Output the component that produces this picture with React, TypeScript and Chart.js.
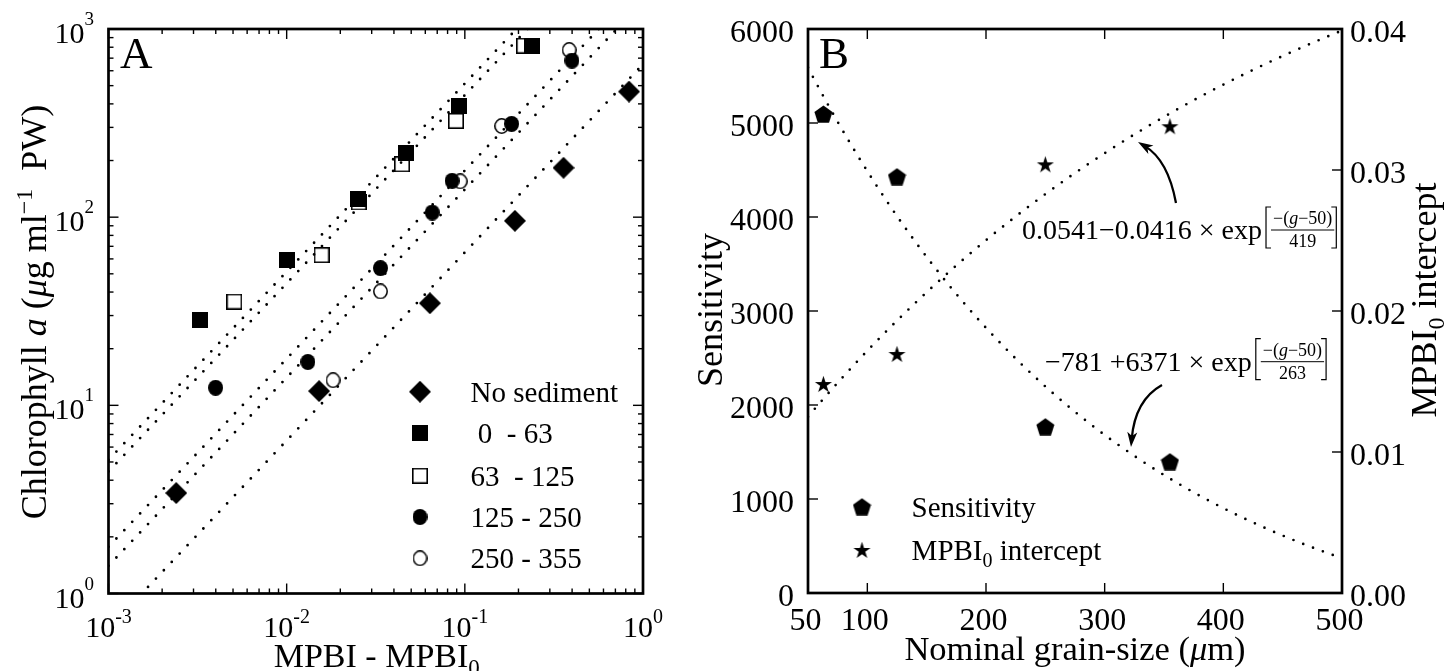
import React, { useEffect, useRef } from "react";
import { Chart, registerables } from "chart.js";

Chart.register(...registerables);

const SERIF = '"Liberation Serif", "Times New Roman", Times, serif';
const f = (size: number, style = "") => `${style ? style + " " : ""}${size}px ${SERIF}`;

// ---------------- Panel A data (log-log) ----------------
const noSedX = [0.0024, 0.0152, 0.0637, 0.191, 0.358, 0.835];
const noSedY = [3.42, 11.9, 34.9, 95.6, 183, 465];
const s0to63X = [0.00328, 0.01, 0.0251, 0.0466, 0.0925, 0.238];
const s0to63Y = [28.5, 59.3, 125.6, 220, 390, 815];
const s63to125X = [0.00508, 0.0157, 0.0254, 0.0444, 0.0892, 0.215];
const s63to125Y = [35.6, 62.8, 119.7, 191, 325, 815];
const s125to250X = [0.00399, 0.01315, 0.0336, 0.0656, 0.0848, 0.183, 0.399];
const s125to250Y = [12.4, 17.0, 53.6, 105.8, 156, 313, 679];
const s250to355X = [0.0182, 0.0336, 0.0942, 0.161, 0.385];
const s250to355Y = [13.6, 40.3, 155, 305, 773];
// fitted proportional lines: Chl = k * (MPBI - MPBI0)
const fitSlopesA = [650, 5130, 4450, 1770, 1403];
const fitRangeA = [0.001, 1];
const legendLabelsA = ["No sediment", " 0  - 63", "63  - 125", "125 - 250", "250 - 355"];
const xTickExpA = [-3, -2, -1, 0];
const yTickExpA = [0, 1, 2, 3];

// ---------------- Panel B data ----------------
const grainSize = [63, 125, 250, 355];
const sensitivity = [5096, 4429, 1769, 1397];
const mpbi0Intercept = [0.01482, 0.01695, 0.0304, 0.0331];
const sensFitCoef = [-781, 6371, 263]; // a + b*exp(-(g-50)/c)
const mpbiFitCoef = [0.0541, -0.0416, 419];
const fitGrid = [50, 500, 5]; // start, end, step
const xTicksB = [50, 100, 200, 300, 400, 500];
const yTicksB = [0, 1000, 2000, 3000, 4000, 5000, 6000];
const y2TicksB = [0, 0.01, 0.02, 0.03, 0.04];

const OX = 690; // page x of canvas B

type Seg = { t: string; f: string; dy?: number };

function richWidth(ctx: CanvasRenderingContext2D, segs: Seg[]) {
  let w = 0;
  for (const s of segs) {
    ctx.font = s.f;
    w += ctx.measureText(s.t).width;
  }
  return w;
}
function drawRich(ctx: CanvasRenderingContext2D, x: number, y: number, segs: Seg[], align: "left" | "center" | "right") {
  const w = richWidth(ctx, segs);
  let cx = align === "left" ? x : align === "center" ? x - w / 2 : x - w;
  ctx.textAlign = "left";
  ctx.textBaseline = "alphabetic";
  for (const s of segs) {
    ctx.font = s.f;
    ctx.fillText(s.t, cx, y + (s.dy || 0));
    cx += ctx.measureText(s.t).width;
  }
}
function seg(ctx: CanvasRenderingContext2D, x1: number, y1: number, x2: number, y2: number) {
  ctx.beginPath();
  ctx.moveTo(x1, y1);
  ctx.lineTo(x2, y2);
  ctx.stroke();
}

function makeMarker(kind: string): HTMLCanvasElement {
  const sizes: Record<string, number[]> = {
    diamond: [22, 22],
    square: [16, 16],
    squareOpen: [16, 16],
    circle: [15, 16],
    circleOpen: [15, 16],
    pentagon: [19, 18],
    star: [19, 18],
  };
  const c = document.createElement("canvas");
  c.width = sizes[kind][0];
  c.height = sizes[kind][1];
  const g = c.getContext("2d")!;
  const w = c.width, h = c.height;
  g.fillStyle = "#000";
  g.strokeStyle = "#000";
  if (kind === "diamond") {
    g.beginPath();
    g.moveTo(w / 2, 0);
    g.lineTo(w, h / 2);
    g.lineTo(w / 2, h);
    g.lineTo(0, h / 2);
    g.closePath();
    g.fill();
  } else if (kind === "square") {
    g.fillRect(0, 0, w, h);
  } else if (kind === "squareOpen") {
    g.fillStyle = "#fff";
    g.fillRect(0, 0, w, h);
    g.lineWidth = 1.6;
    g.strokeRect(0.8, 0.8, w - 1.6, h - 1.6);
  } else if (kind === "circle") {
    g.beginPath();
    g.ellipse(w / 2, h / 2, w / 2, h / 2, 0, 0, Math.PI * 2);
    g.fill();
  } else if (kind === "circleOpen") {
    g.beginPath();
    g.ellipse(w / 2, h / 2, w / 2 - 0.8, h / 2 - 0.8, 0, 0, Math.PI * 2);
    g.fillStyle = "#fff";
    g.fill();
    g.lineWidth = 1.5;
    g.stroke();
  } else if (kind === "pentagon") {
    const R = 9.5, cx = w / 2, cy = 10;
    g.beginPath();
    for (let i = 0; i < 5; i++) {
      const a = -Math.PI / 2 + (i * 2 * Math.PI) / 5;
      const px = cx + R * Math.cos(a), py = cy + R * Math.sin(a);
      if (i === 0) g.moveTo(px, py);
      else g.lineTo(px, py);
    }
    g.closePath();
    g.fill();
  } else if (kind === "star") {
    const R = 9, r = 9 * 0.382, cx = w / 2, cy = 9.8;
    g.beginPath();
    for (let i = 0; i < 10; i++) {
      const a = -Math.PI / 2 + (i * Math.PI) / 5;
      const rr = i % 2 === 0 ? R : r;
      const px = cx + rr * Math.cos(a), py = cy + rr * Math.sin(a);
      if (i === 0) g.moveTo(px, py);
      else g.lineTo(px, py);
    }
    g.closePath();
    g.fill();
  }
  return c;
}

const zip = (xs: number[], ys: number[]) => xs.map((x, i) => ({ x, y: ys[i] }));

function curvedArrow(ctx: CanvasRenderingContext2D, p0: number[], c: number[], p1: number[]) {
  const ang = Math.atan2(p1[1] - c[1], p1[0] - c[0]);
  const L = 15, W = 5;
  const end = [p1[0] - 8 * Math.cos(ang), p1[1] - 8 * Math.sin(ang)];
  ctx.lineWidth = 2.3;
  ctx.beginPath();
  ctx.moveTo(p0[0], p0[1]);
  ctx.quadraticCurveTo(c[0], c[1], end[0], end[1]);
  ctx.stroke();
  ctx.beginPath();
  ctx.moveTo(p1[0], p1[1]);
  ctx.lineTo(p1[0] - L * Math.cos(ang) + W * Math.sin(ang), p1[1] - L * Math.sin(ang) - W * Math.cos(ang));
  ctx.lineTo(p1[0] - 11 * Math.cos(ang), p1[1] - 11 * Math.sin(ang));
  ctx.lineTo(p1[0] - L * Math.cos(ang) - W * Math.sin(ang), p1[1] - L * Math.sin(ang) + W * Math.cos(ang));
  ctx.closePath();
  ctx.fill();
}

function drawFormula(ctx: CanvasRenderingContext2D, x0: number, mid: number, main: Seg[], denom: string) {
  const numer: Seg[] = [
    { t: "\u2212(", f: f(18) },
    { t: "g", f: f(18, "italic") },
    { t: "\u221250)", f: f(18) },
  ];
  drawRich(ctx, x0, mid + 9, main, "left");
  let cx = x0 + richWidth(ctx, main) + 4;
  const bt = mid - 23, bb = mid + 18;
  ctx.lineWidth = 1.2;
  ctx.beginPath();
  ctx.moveTo(cx + 5, bt);
  ctx.lineTo(cx, bt);
  ctx.lineTo(cx, bb);
  ctx.lineTo(cx + 5, bb);
  ctx.stroke();
  cx += 5;
  const nw = richWidth(ctx, numer);
  ctx.font = f(18);
  const dw = ctx.measureText(denom).width;
  const fw = Math.max(nw, dw) + 4;
  drawRich(ctx, cx + fw / 2, mid - 6, numer, "center");
  drawRich(ctx, cx + fw / 2, mid + 17, [{ t: denom, f: f(18) }], "center");
  ctx.lineWidth = 1;
  seg(ctx, cx, mid, cx + fw, mid);
  cx += fw + 2;
  ctx.lineWidth = 1.2;
  ctx.beginPath();
  ctx.moveTo(cx - 5, bt);
  ctx.lineTo(cx, bt);
  ctx.lineTo(cx, bb);
  ctx.lineTo(cx - 5, bb);
  ctx.stroke();
}

function buildA(markers: Record<string, HTMLCanvasElement>) {
  const seriesA = [
    { xs: noSedX, ys: noSedY, m: markers.diamond },
    { xs: s0to63X, ys: s0to63Y, m: markers.square },
    { xs: s63to125X, ys: s63to125Y, m: markers.squareOpen },
    { xs: s125to250X, ys: s125to250Y, m: markers.circle },
    { xs: s250to355X, ys: s250to355Y, m: markers.circleOpen },
  ];
  const fits = fitSlopesA.map((k) => ({
    data: fitRangeA.map((x) => ({ x, y: k * x })),
    showLine: true,
    borderColor: "#000",
    borderWidth: 2.8,
    borderDash: [0, 11.5],
    borderCapStyle: "round",
    pointRadius: 0,
    fill: false,
  }));
  const pts = seriesA.map((s, i) => ({
    label: legendLabelsA[i],
    data: zip(s.xs, s.ys),
    pointStyle: s.m,
    pointRadius: 8,
    showLine: false,
  }));

  const plugin = {
    id: "panelA",
    afterDraw(chart: any) {
      const ctx = chart.ctx as CanvasRenderingContext2D;
      const { left, right, top, bottom } = chart.chartArea;
      const xs = chart.scales.x, ys = chart.scales.y;
      ctx.save();
      ctx.strokeStyle = "#000";
      ctx.fillStyle = "#000";
      ctx.lineWidth = 1.4;
      for (let e = xTickExpA[0]; e < xTickExpA[xTickExpA.length - 1]; e++) {
        for (let m = 1; m <= 9; m++) {
          const px = xs.getPixelForValue(m * Math.pow(10, e));
          const len = m === 1 ? 10 : 5;
          seg(ctx, px, bottom, px, bottom - len);
          seg(ctx, px, top, px, top + len);
        }
      }
      for (let e = yTickExpA[0]; e < yTickExpA[yTickExpA.length - 1]; e++) {
        for (let m = 1; m <= 9; m++) {
          const py = ys.getPixelForValue(m * Math.pow(10, e));
          const len = m === 1 ? 10 : 5;
          seg(ctx, left, py, left + len, py);
          seg(ctx, right, py, right - len, py);
        }
      }
      ctx.lineWidth = 2.7;
      ctx.strokeRect(left, top, right - left, bottom - top);

      for (const e of xTickExpA) {
        const px = xs.getPixelForValue(Math.pow(10, e));
        drawRich(ctx, px, 637, [{ t: "10", f: f(30) }, { t: String(e), f: f(20), dy: -14 }], "center");
      }
      for (const e of yTickExpA) {
        const py = ys.getPixelForValue(Math.pow(10, e));
        drawRich(ctx, left - 14.5, py + 14, [{ t: "10", f: f(30) }, { t: String(e), f: f(19), dy: -18 }], "right");
      }
      drawRich(ctx, (left + right) / 2 + 1, 667, [{ t: "MPBI - MPBI", f: f(34) }, { t: "0", f: f(23), dy: 8 }], "center");

      ctx.save();
      ctx.translate(46, 312);
      ctx.rotate(-Math.PI / 2);
      drawRich(
        ctx,
        0,
        0,
        [
          { t: "Chlorophyll ", f: f(36) },
          { t: "a", f: f(36, "italic") },
          { t: " (", f: f(36) },
          { t: "\u03bc", f: f(36, "italic") },
          { t: "g ml", f: f(36) },
          { t: "\u22121", f: f(24), dy: -14 },
          { t: "  PW)", f: f(36) },
        ],
        "center"
      );
      ctx.restore();

      ctx.font = f(45);
      ctx.textAlign = "left";
      ctx.fillText("A", 120, 68);

      const rows = [391.7, 433, 475.7, 517, 558.3];
      seriesA.forEach((s, i) => {
        const m = s.m;
        ctx.drawImage(m, 420 - m.width / 2, rows[i] - m.height / 2);
        drawRich(ctx, 470.6, rows[i] + 10, [{ t: legendLabelsA[i], f: f(29) }], "left");
      });
      ctx.restore();
    },
  };

  return {
    type: "scatter",
    data: { datasets: [...fits, ...pts] },
    options: {
      responsive: false,
      animation: false,
      events: [],
      layout: { padding: { left: 108.5, right: 690 - 643, top: 29, bottom: 671 - 593.5 } },
      scales: {
        x: { type: "logarithmic", min: 0.001, max: 1, display: false },
        y: { type: "logarithmic", min: 1, max: 1000, display: false },
      },
      plugins: { legend: { display: false }, tooltip: { enabled: false } },
    },
    plugins: [plugin],
  };
}

function buildB(markers: Record<string, HTMLCanvasElement>) {
  const grid: number[] = [];
  for (let g = fitGrid[0]; g <= fitGrid[1]; g += fitGrid[2]) grid.push(g);
  const curve = (c: number[]) => grid.map((g) => ({ x: g, y: c[0] + c[1] * Math.exp(-(g - 50) / c[2]) }));
  const dotted = { showLine: true, borderColor: "#000", borderWidth: 2.7, borderDash: [0, 10.5], borderCapStyle: "round", pointRadius: 0, fill: false };

  const plugin = {
    id: "panelB",
    afterDraw(chart: any) {
      const ctx = chart.ctx as CanvasRenderingContext2D;
      const ca = chart.chartArea;
      const left = ca.left + OX, right = ca.right + OX, top = ca.top, bottom = ca.bottom;
      const xs = chart.scales.x, ys = chart.scales.y, y2 = chart.scales.y2;
      ctx.save();
      ctx.translate(-OX, 0);
      ctx.strokeStyle = "#000";
      ctx.fillStyle = "#000";
      ctx.lineWidth = 1.4;
      for (const v of xTicksB.slice(1, -1)) {
        const px = xs.getPixelForValue(v) + OX;
        seg(ctx, px, bottom, px, bottom - 10);
        seg(ctx, px, top, px, top + 10);
      }
      for (const v of yTicksB.slice(1, -1)) {
        const py = ys.getPixelForValue(v);
        seg(ctx, left, py, left + 10, py);
      }
      for (const v of y2TicksB.slice(1, -1)) {
        const py = y2.getPixelForValue(v);
        seg(ctx, right, py, right - 10, py);
      }
      ctx.lineWidth = 2.7;
      ctx.strokeRect(left, top, right - left, bottom - top);

      for (const v of xTicksB) {
        const px = xs.getPixelForValue(v) + OX;
        drawRich(ctx, px - 2.5, 630, [{ t: String(v), f: f(32) }], "center");
      }
      for (const v of yTicksB) {
        const py = ys.getPixelForValue(v);
        drawRich(ctx, left - 14, py + 12.5, [{ t: String(v), f: f(32) }], "right");
      }
      for (const v of y2TicksB) {
        const py = y2.getPixelForValue(v);
        drawRich(ctx, right + 8, py + 13, [{ t: v.toFixed(2), f: f(32) }], "left");
      }
      drawRich(
        ctx,
        (left + right) / 2,
        660,
        [
          { t: "Nominal grain-size (", f: f(34.5) },
          { t: "\u03bc", f: f(34.5, "italic") },
          { t: "m)", f: f(34.5) },
        ],
        "center"
      );
      ctx.save();
      ctx.translate(722, 310);
      ctx.rotate(-Math.PI / 2);
      drawRich(ctx, 0, 0, [{ t: "Sensitivity", f: f(36) }], "center");
      ctx.restore();
      ctx.save();
      ctx.translate(1436, 300);
      ctx.rotate(-Math.PI / 2);
      drawRich(
        ctx,
        0,
        0,
        [
          { t: "MPBI", f: f(36) },
          { t: "0", f: f(24), dy: 8 },
          { t: " intercept", f: f(36) },
        ],
        "center"
      );
      ctx.restore();

      ctx.font = f(45);
      ctx.textAlign = "left";
      ctx.fillText("B", 819, 68);

      // legend
      const pm = markers.pentagon, sm = markers.star;
      ctx.drawImage(pm, 862 - pm.width / 2, 506.7 - pm.height / 2);
      drawRich(ctx, 911.6, 517, [{ t: "Sensitivity", f: f(29) }], "left");
      ctx.drawImage(sm, 862 - sm.width / 2, 550 - sm.height / 2);
      drawRich(
        ctx,
        911.6,
        560,
        [
          { t: "MPBI", f: f(29) },
          { t: "0", f: f(20), dy: 7 },
          { t: " intercept", f: f(29) },
        ],
        "left"
      );

      // annotations
      drawFormula(ctx, 1022, 230, [{ t: "0.0541\u22120.0416 \u00d7 exp", f: f(28) }], "419");
      drawFormula(ctx, 1045, 361.7, [{ t: "\u2212781 +6371 \u00d7 exp", f: f(28) }], "263");
      curvedArrow(ctx, [1176, 203], [1168, 160], [1138, 142]);
      curvedArrow(ctx, [1162, 385], [1135, 400], [1131, 447]);
      ctx.restore();
    },
  };

  return {
    type: "scatter",
    data: {
      datasets: [
        { ...dotted, data: curve(sensFitCoef), yAxisID: "y" },
        { ...dotted, data: curve(mpbiFitCoef), yAxisID: "y2" },
        { label: "Sensitivity", data: zip(grainSize, sensitivity), pointStyle: markers.pentagon, pointRadius: 8, yAxisID: "y" },
        { label: "MPBI0 intercept", data: zip(grainSize, mpbi0Intercept), pointStyle: markers.star, pointRadius: 8, yAxisID: "y2" },
      ],
    },
    options: {
      responsive: false,
      animation: false,
      events: [],
      layout: { padding: { left: 808 - OX, right: 1444 - 1342, top: 29, bottom: 671 - 593 } },
      scales: {
        x: { type: "linear", min: 50, max: 500, display: false },
        y: { type: "linear", min: 0, max: 6000, display: false },
        y2: { type: "linear", position: "right", min: 0, max: 0.04, display: false },
      },
      plugins: { legend: { display: false }, tooltip: { enabled: false } },
    },
    plugins: [plugin],
  };
}

export default function App() {
  const refA = useRef<HTMLCanvasElement>(null);
  const refB = useRef<HTMLCanvasElement>(null);
  useEffect(() => {
    const markers: Record<string, HTMLCanvasElement> = {};
    for (const k of ["diamond", "square", "squareOpen", "circle", "circleOpen", "pentagon", "star"]) markers[k] = makeMarker(k);
    const a = new Chart(refA.current!, buildA(markers) as any);
    const b = new Chart(refB.current!, buildB(markers) as any);
    return () => {
      a.destroy();
      b.destroy();
    };
  }, []);
  return (
    <div style={{ position: "absolute", left: 0, top: 0, width: 1444, height: 671, background: "#fff", overflow: "hidden" }}>
      <canvas ref={refA} width={690} height={671} style={{ position: "absolute", left: 0, top: 0, width: 690, height: 671 }} />
      <canvas ref={refB} width={754} height={671} style={{ position: "absolute", left: OX, top: 0, width: 754, height: 671 }} />
    </div>
  );
}
